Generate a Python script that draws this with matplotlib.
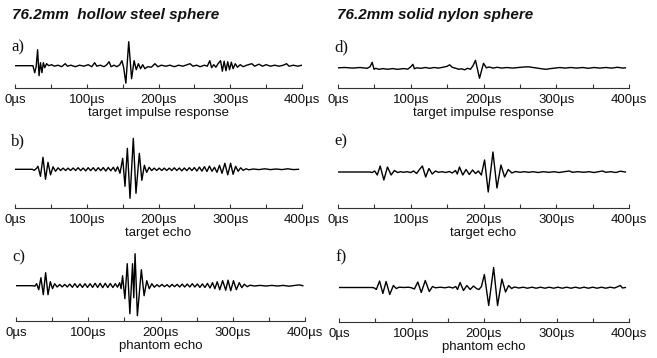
import matplotlib
matplotlib.use("Agg")
import matplotlib.pyplot as plt
from matplotlib.ticker import FixedLocator, FixedFormatter

# Waveforms as (time in µs, amplitude in arbitrary units) extrema
hollow_impulse = [
    (0, 0), (25, 0), (27.5, -7), (29.5, -1), (31.5, 16), (33.5, -10), (35.5, 3), (37.5, -7),
    (39.5, 3), (41.5, -2), (44, 2), (47, 0), (51, 1), (55, -0.5), (60, 0.5), (65, -1), (70, 2),
    (73, -0.5), (78, 0.5), (84, -1), (90, 0.5), (96, -0.5), (102, 1), (107, -1), (111, 3),
    (114, -0.5), (119, 0.5), (124, -1), (128, 1), (131, 4), (134, -1), (138, 0.5), (142, -1),
    (146, 1), (149, 5), (151.5, -2), (154.5, -17.5), (158.5, 24), (162.5, -13), (166, 5),
    (169, -4), (172, 2), (175, -3), (178, 1), (181, -3), (185, -1), (190, -1.5), (195, 2),
    (199, -1), (204, 0.5), (210, -0.5), (216, 0.5), (222, -1), (228, 0.5), (234, -0.5),
    (240, 1), (244, 2), (248, -0.5), (253, 0.5), (258, -1), (264, 0.5), (268, -0.5),
    (271.5, 5), (274, -2), (277, 1), (280, -1.5), (283, 2), (286.5, 5), (289, -5.5),
    (291.5, 4.5), (294, -5), (296.5, 4), (299, -4), (301.5, 3.5), (304, -3), (307, 2),
    (310, -1.5), (314, 1), (318, -1), (323, 0.5), (330, 2), (334, -0.5), (340, 1.5),
    (345, -0.5), (350, 1), (356, -0.5), (362, 0.5), (368, -0.5), (374, 0.5), (378.5, 2),
    (382, -0.5), (388, 0.5), (394, -0.5), (400, 0.5),
]

hollow_target_echo = [
    (0, 0), (24, 0), (27, -1), (30, 1), (32, 3), (35.5, -7), (39, 12), (42.5, -10), (46, 7),
    (49.5, -5.5), (53, 2.5), (56.5, -2), (60, 1.5), (63.5, -1.2), (67, 1.2), (70.5, -1.2),
    (74, 1.2), (77.5, -1.2), (81, 1.3), (84.5, -1.2), (88, 1.6), (91.5, -1.3), (95, 1.3),
    (98.5, -1.6), (102, 1.6), (105.5, -1.3), (109, 1.6), (112.5, -1.6), (116, 1.6),
    (119.5, -1.3), (123, 1.7), (126.5, -1.7), (130, 1.8), (133.5, -1.5), (137, 2), (140, -2),
    (143, 2.5), (146.3, -4), (150.1, 11), (153.3, -17), (156.6, 21), (160.3, -29),
    (164.9, 31), (168.6, -24), (173.3, 16), (176.8, -11), (180.3, 4), (183.5, -3), (187, 2),
    (190.5, -1.3), (194, 1.2), (197.5, -1.2), (201, 1.2), (204.5, -1.2), (208, 1.2),
    (211.5, -1.2), (215, 1.2), (218.5, -1.2), (222, 1.5), (225.5, -1.2), (229, 1.3),
    (232.5, -1.5), (236, 1.3), (239.5, -1.3), (243, 1.6), (246.5, -1.3), (250, 1.7),
    (253.5, -1.7), (257, 2.2), (260.5, -1.8), (264, 2.6), (267.5, -2.2), (271, 3.2),
    (274.5, -2), (278, 2), (281.5, -3), (285, 4), (288.5, -4), (292.5, 6), (296.5, -5.5),
    (300.5, 6), (304, -5), (307.5, 3), (311, -2), (314.5, 1.5), (318, -1), (322, 0.5),
    (326, -0.5), (332, 0.3), (340, -0.3), (348, 0.5), (356, -0.3), (364, 0.3), (372, -0.3),
    (380, 0.5), (388, -0.3), (395, 0),
]

hollow_phantom_echo = [
    (0, 0), (23, 0), (26, -0.5), (28.5, 2), (31.5, -4), (34.5, 8), (37.8, -9), (41, 13),
    (44.3, -9), (47.5, 4), (50.5, -3), (53.5, 2), (57, -1.3), (60.5, 1.2), (64, -1.2),
    (67.5, 1.3), (71, -1.3), (74.5, 1.6), (78, -1.6), (81.5, 2), (85, -1.7), (88.5, 1.7),
    (92, -1.7), (95.5, 2), (99, -1.7), (102.5, 2), (106, -1.7), (109.5, 2.4), (113, -1.7),
    (116.5, 2.4), (120, -2), (123.5, 2.4), (127, -1.8), (130.5, 2.2), (134, -1.8), (137.5, 2),
    (140.5, -1.5), (143.5, 3), (145.5, -3), (147.5, 10), (150.7, -13), (154, 22),
    (157.6, -28), (161.3, 22), (163, -12), (164.8, 32), (168, -30), (173.5, 16), (177.3, -10),
    (181, 5), (184.5, -3), (188, 2), (191.5, -1.5), (195, 1), (198.5, -1), (202, 1.3),
    (205.5, -1), (209, 1), (212.5, -1.3), (216, 1.3), (219.5, -1), (223, 1.3), (226.5, -1.3),
    (230, 1.6), (233.5, -1.3), (237, 1.6), (240.5, -1.3), (244, 2), (247.5, -1.3), (251, 1.7),
    (254.5, -1.7), (258, 1.8), (261.5, -1.8), (265, 2.3), (268.5, -2.3), (272, 3),
    (275.3, -3), (278.5, 4), (282, -4), (286, 5), (290.3, -4.5), (293.5, 5.5), (297.2, -5),
    (301, 5), (305, -4), (309, 3), (312.5, -2), (316, 1.5), (320, -1), (324, 0.5),
    (330, -0.3), (338, 0.3), (346, -0.3), (354, 0.3), (362, -0.3), (370, 0.3), (378, -0.5),
    (386, 0.3), (392, 0.8), (397, 0),
]

nylon_impulse = [
    (0, 0), (10, 0.3), (20, -0.3), (30, 0.3), (40, -0.5), (44, 1), (47, 5.5), (49.5, -1.5),
    (52, -0.5), (56, -1.5), (62, -0.8), (68, -1.5), (75, -0.8), (82, -1.5), (90, -0.8),
    (96, -1.3), (100, 1), (103, 3.5), (105, -1), (108, 0), (114, -0.5), (120, 0.3),
    (126, -0.5), (132, 0.3), (138, -0.3), (144, 0.5), (150, 1.5), (153.5, 3), (157, 0.5),
    (162, -0.5), (166, -1.5), (170, -1), (174, -2), (178, -0.5), (182, -1.5), (185.5, 2),
    (189, 7.5), (194.5, -10.5), (200, 4.5), (204, 0), (208, 0.8), (213, -0.3), (219, 0.5),
    (225, -0.3), (232, 0.3), (240, -0.3), (248, 0.3), (256, 0.8), (262, 1), (268, 0.3),
    (274, -0.3), (280, -1), (286, -1.5), (292, -0.8), (298, -0.3), (305, 0.3), (312, -0.3),
    (320, 0.3), (328, -0.3), (336, 0.3), (344, -0.5), (352, 0.3), (360, -0.3), (368, 0.3),
    (376, -0.3), (384, 0.5), (392, -0.3), (395, 0),
]

nylon_target_echo = [
    (0, 0), (44, 0), (47, -0.5), (50.5, 1), (54, -3), (58, 6), (63, -8), (68, 5), (73, -3),
    (77.5, 1.5), (82, -0.5), (86, 0.3), (90, -0.3), (95, 0.3), (100, -0.5), (104, 1),
    (108, -1.5), (112, 2.5), (116, 6), (120.5, -5), (125, 3.5), (129.5, -2), (134, 1),
    (138, -0.3), (143, 0.3), (148, -0.5), (153, 0.5), (157, -1), (161.5, 1.5), (164, -2),
    (167, 5), (171.5, -3), (176, 2.5), (180.5, -2.5), (185, 2), (189, -1.5), (193, 1),
    (197, -3), (201.5, 12), (206.5, -20), (213, 20), (218.5, -16), (224, 7), (229, -5),
    (234, 2.5), (239, -1), (244, 0.5), (250, -0.3), (256, 0.3), (262, -0.3), (268, 0.3),
    (275, -0.5), (282, 0.3), (290, -0.3), (297, 0.3), (304, -0.5), (311, 0.3), (318, 1),
    (322, -0.3), (330, 0.3), (338, -0.3), (345, 0.3), (352, -0.5), (358, 0.3), (364, 1),
    (368, -0.3), (375, 0.3), (382, -0.5), (388, 0.8), (395, 0),
]

nylon_phantom_echo = [
    (0, 0), (46, 0), (49, -0.5), (51.5, -2), (56, 6.5), (60.5, -6), (65, 6), (70, -7),
    (75, 2), (79, -1), (83, 0.3), (90, 0), (96, 0.3), (100, -0.3), (104, -1.5), (108.7, 5.5),
    (113.5, -5), (119, 7), (124.5, -4), (129, 1), (133, -0.3), (140, 0.3), (146, -0.3),
    (152, 0.5), (157, -0.5), (161, 1), (163.5, -2), (167, 5), (171.7, -3), (176.3, 2),
    (181, -2), (185.5, 1.5), (189.5, -1), (193, -2), (196.5, 1), (200.5, 13), (206.5, -18),
    (213.3, 20), (218.7, -18), (224.7, 8.5), (229.7, -4.5), (234, 2), (238, -1), (242, 0.5),
    (248, -0.5), (254, 0.3), (260, -0.7), (266, 0.3), (272, -0.7), (278, 0.3), (284, -0.7),
    (290, 0.3), (296, -0.7), (302, 0.3), (308, -0.7), (314, 0.3), (320, -0.7), (326, 0.3),
    (332, -0.7), (338, 0.3), (344, -0.7), (350, 0.3), (356, -0.7), (362, 0.3), (368, -0.7),
    (374, 0.3), (380, -0.5), (385, 1), (388, 2), (391, -0.5), (395, 0),
]

column_titles = ["76.2mm  hollow steel sphere", "76.2mm solid nylon sphere"]
panel_letters = ["a)", "b)", "c)", "d)", "e)", "f)"]
row_captions = ["target impulse response", "target echo", "phantom echo"]
tick_values = [0, 100, 200, 300, 400]
tick_labels = ["0µs", "100µs", "200µs", "300µs", "400µs"]
minor_values = [50, 150, 250, 350]

plt.rcParams["font.family"] = ["Liberation Sans", "DejaVu Sans"]

W, H = 657, 358
fig = plt.figure(figsize=(W / 100, H / 100), dpi=100)
fig.patch.set_facecolor("white")

# Panel boxes in pixels: (x of 0 µs, x of 400 µs, top, axis line y, trace baseline y)
boxes = [
    (15, 302, 38, 88, 65.7),
    (15, 302, 132, 208, 169.3),
    (16, 305, 248, 321, 285.7),
    (338, 629, 38, 88, 67.8),
    (338, 629, 132, 208, 172.0),
    (339, 629, 248, 322, 287.5),
]
traces = [hollow_impulse, hollow_target_echo, hollow_phantom_echo,
          nylon_impulse, nylon_target_echo, nylon_phantom_echo]

for i, (trace, box) in enumerate(zip(traces, boxes)):
    x0, x1, top, axy, base = box
    ax = fig.add_axes([x0 / W, 1 - axy / H, (x1 - x0) / W, (axy - top) / H])
    t, v = zip(*trace)
    ax.plot(t, v, color="#000000", lw=1.0, solid_joinstyle="round")
    ax.set_xlim(0, 400)
    ax.set_ylim(-(axy - base), base - top)
    for s in ("top", "left", "right"):
        ax.spines[s].set_visible(False)
    ax.spines["bottom"].set_color("#333333")
    ax.spines["bottom"].set_linewidth(0.8)
    ax.set_yticks([])
    ax.xaxis.set_major_locator(FixedLocator(tick_values))
    ax.xaxis.set_major_formatter(FixedFormatter(tick_labels))
    ax.xaxis.set_minor_locator(FixedLocator(minor_values))
    ax.tick_params(axis="x", which="both", direction="in", length=3, width=0.8,
                   color="#333333", pad=4.5, labelsize=9.5, labelcolor="#111111")
    ax.patch.set_alpha(0)

    col, row = divmod(i, 3)
    fig.text((x0 - 4) / W, 1 - (top + 9) / H, panel_letters[i],
             family=["Liberation Serif", "DejaVu Serif"], fontsize=12,
             ha="left", va="center", color="#111111")
    fig.text((x0 + x1) / 2 / W, 1 - (axy + 25) / H, row_captions[row],
             fontsize=9.5, ha="center", va="center", color="#111111")

fig.text(12 / W, 1 - 15 / H, column_titles[0], fontsize=11, fontweight="bold",
         fontstyle="italic", ha="left", va="center", color="#111111")
fig.text(337 / W, 1 - 15 / H, column_titles[1], fontsize=11, fontweight="bold",
         fontstyle="italic", ha="left", va="center", color="#111111")

fig.savefig("out.png", dpi=100, facecolor="white")
